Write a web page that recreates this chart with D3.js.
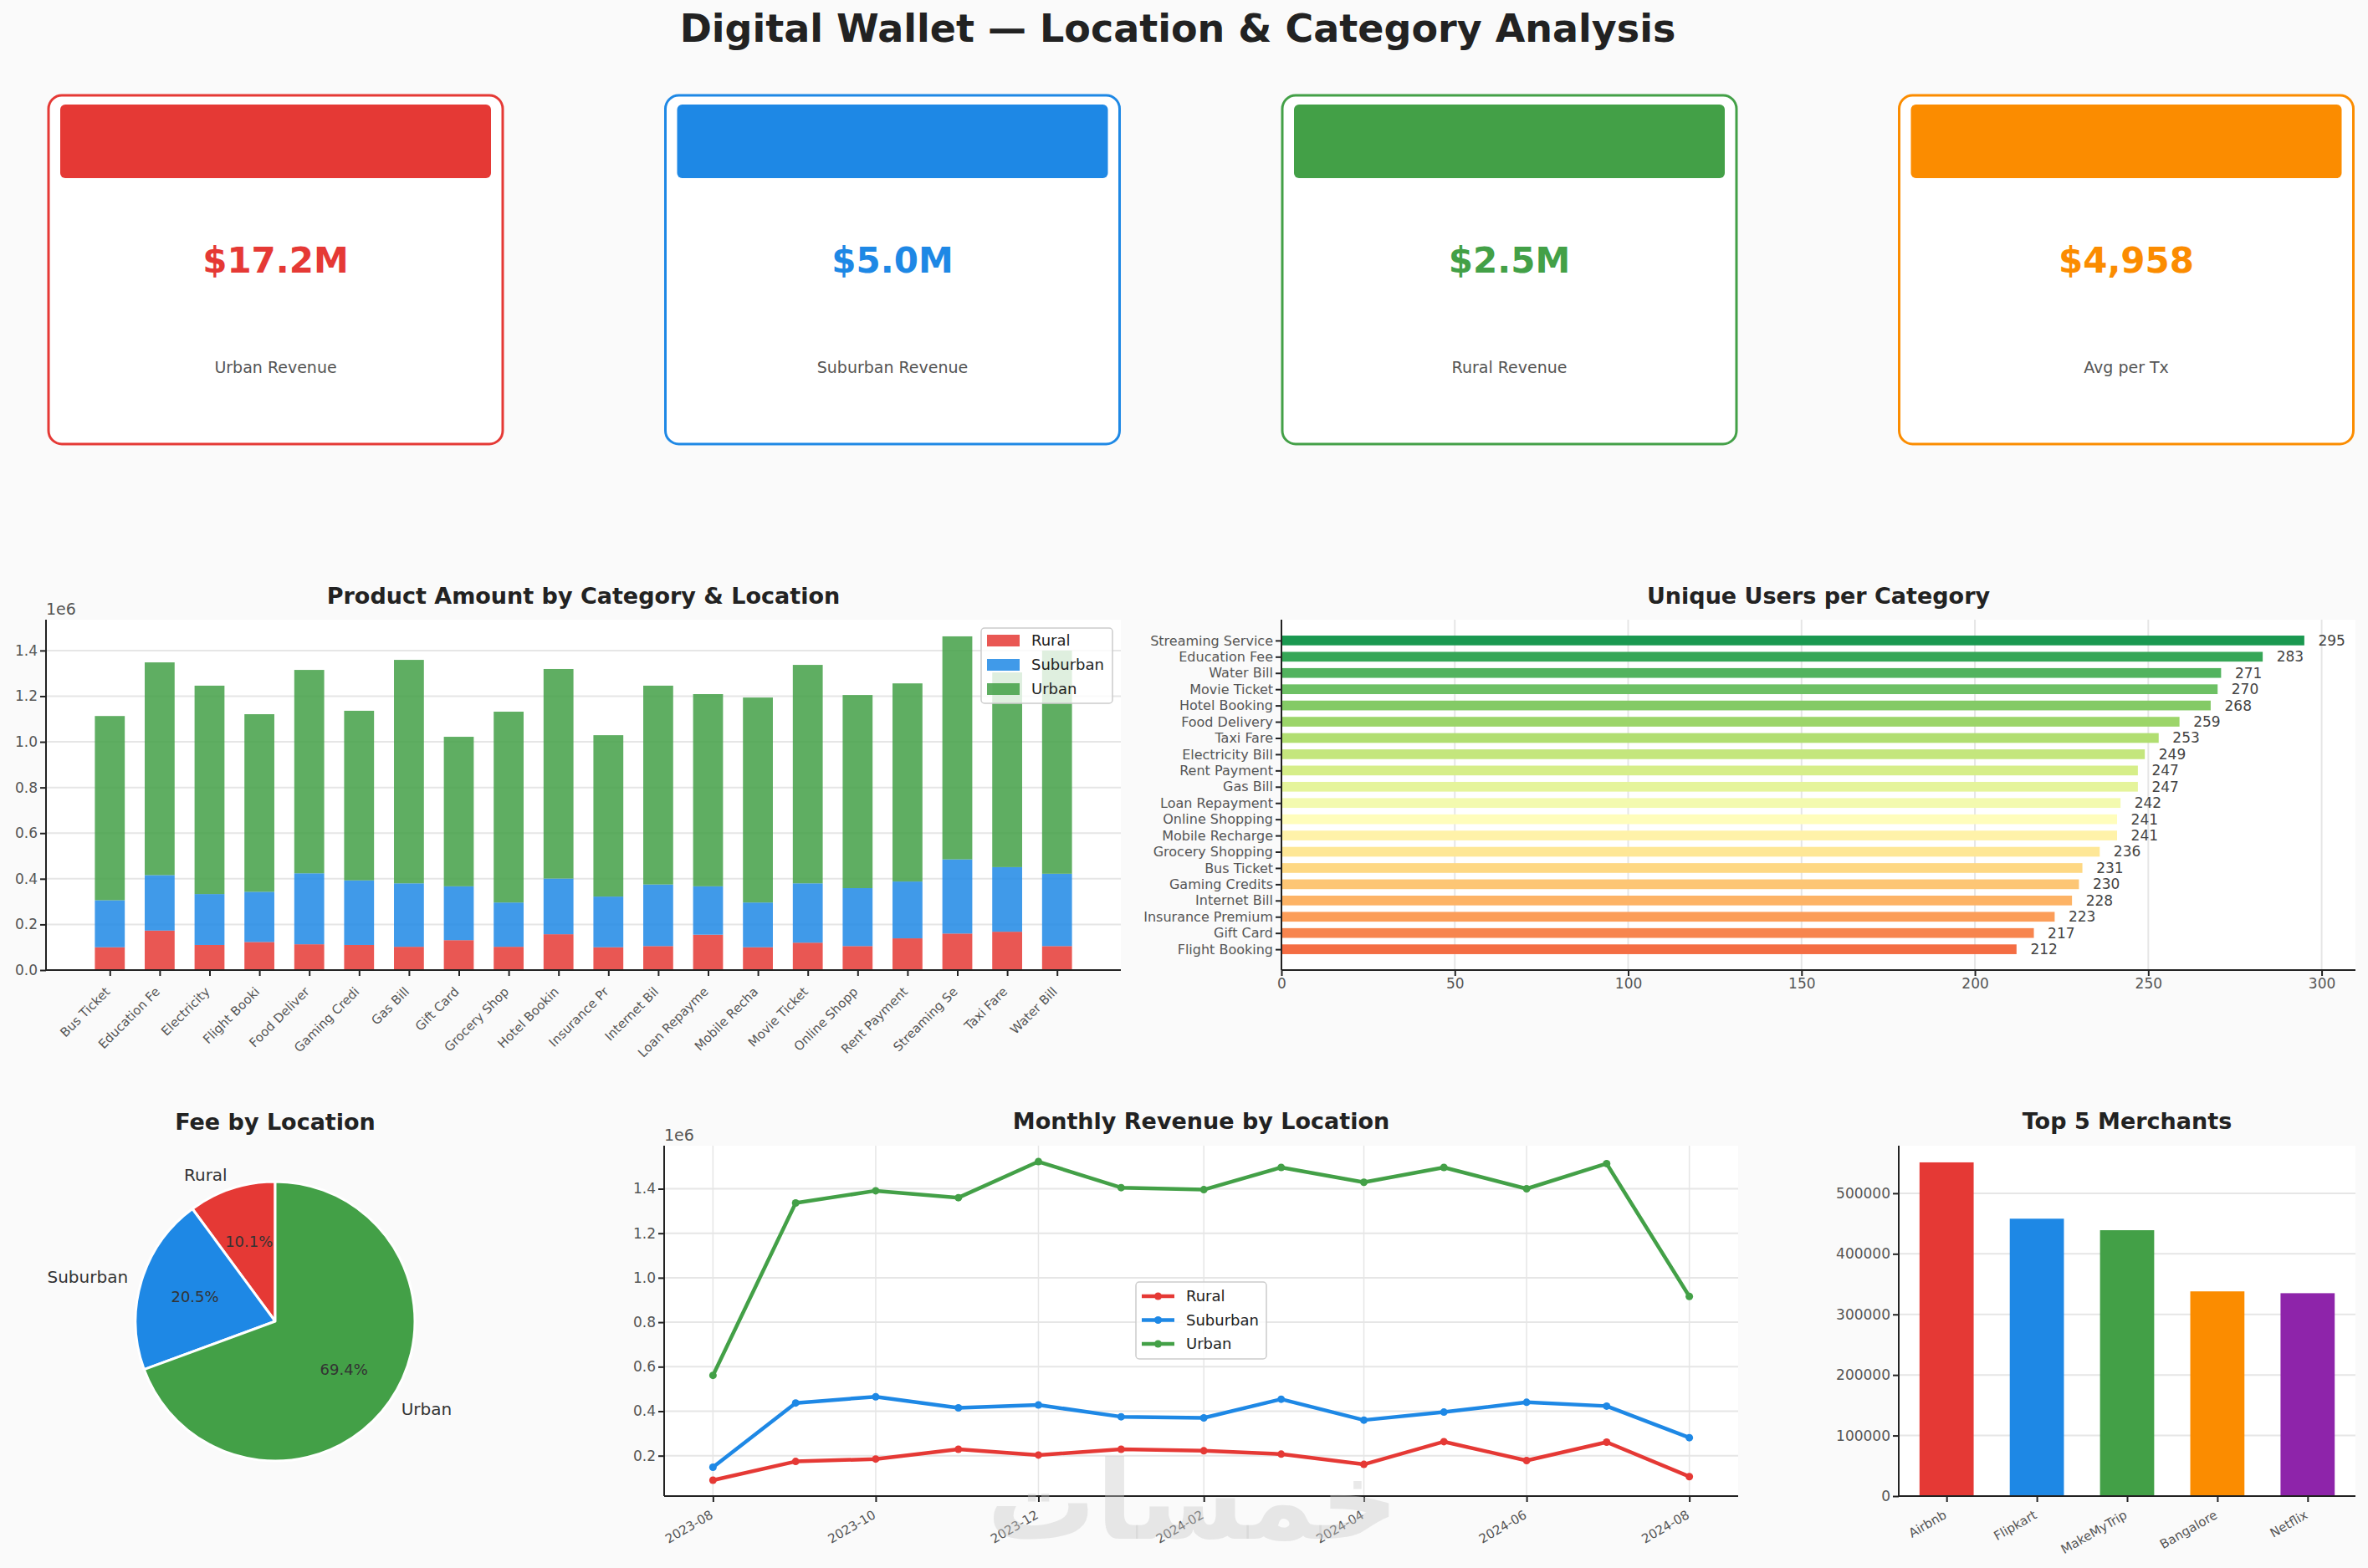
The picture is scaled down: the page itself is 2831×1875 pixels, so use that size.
<!DOCTYPE html>
<html>
<head>
<meta charset="utf-8">
<script src="https://cdn.jsdelivr.net/npm/d3@7"></script>
<style>
  body { margin: 0; background: #fafafa; }
  text { font-family: "DejaVu Sans", sans-serif; }
</style>
</head>
<body>
<svg id="fig" width="2831" height="1875"></svg>
<script>
// ---- data ----
var locations = ["Rural", "Suburban", "Urban"];
var locColors = ["#e53935", "#1e88e5", "#43a047"];

var kpiValues = ["$17.2M", "$5.0M", "$2.5M", "$4,958"];
var kpiLabels = ["Urban Revenue", "Suburban Revenue", "Rural Revenue", "Avg per Tx"];
var kpiColors = ["#e53935", "#1e88e5", "#43a047", "#fb8c00"];

var categories = ["Bus Ticket", "Education Fee", "Electricity Bill", "Flight Booking", "Food Delivery",
  "Gaming Credits", "Gas Bill", "Gift Card", "Grocery Shopping", "Hotel Booking", "Insurance Premium",
  "Internet Bill", "Loan Repayment", "Mobile Recharge", "Movie Ticket", "Online Shopping", "Rent Payment",
  "Streaming Service", "Taxi Fare", "Water Bill"];
var ruralAmt = [100000, 173000, 110000, 123000, 113000, 110000, 102000, 131000, 102000, 157000,
  100000, 105000, 155000, 100000, 120000, 105000, 139000, 160000, 168000, 105000];
var suburbanAmt = [206000, 243000, 223000, 220000, 311000, 283000, 278000, 236000, 194000, 244000,
  222000, 270000, 212000, 196000, 260000, 254000, 249000, 325000, 283000, 317000];
var urbanAmt = [807000, 932000, 913000, 778000, 891000, 743000, 979000, 655000, 836000, 918000,
  707000, 871000, 842000, 898000, 957000, 846000, 868000, 977000, 853000, 978000];
var uniqueUsers = [231, 283, 249, 212, 259, 230, 247, 217, 236, 268, 223, 228, 242, 241, 270, 241, 247, 295, 253, 271];

var feeShare = [10.1, 20.5, 69.4];

var months = ["2023-08", "2023-09", "2023-10", "2023-11", "2023-12", "2024-01", "2024-02",
  "2024-03", "2024-04", "2024-05", "2024-06", "2024-07", "2024-08"];
var ruralMonthly = [90000, 174000, 185000, 229000, 203000, 229000, 222000, 207000, 161000, 263000, 178000, 261000, 106000];
var suburbanMonthly = [148000, 437000, 465000, 415000, 428000, 375000, 370000, 454000, 360000, 396000, 440000, 423000, 281000];
var urbanMonthly = [561000, 1336000, 1391000, 1360000, 1522000, 1405000, 1396000, 1496000, 1429000, 1496000, 1400000, 1513000, 916000];
var monthTicks = ["2023-08", "2023-10", "2023-12", "2024-02", "2024-04", "2024-06", "2024-08"];

var merchants = ["Airbnb", "Flipkart", "MakeMyTrip", "Bangalore", "Netflix"];
var merchantRevenue = [551000, 458000, 439000, 338000, 335000];
var merchantColors = ["#e53935", "#1e88e5", "#43a047", "#fb8c00", "#8e24aa"];

// ---- helpers ----
var svg = d3.select("#fig");
svg.append("rect").attr("width", 2831).attr("height", 1875).attr("fill", "#fafafa");

function styleAxis(g, size) {
  g.selectAll(".domain").attr("stroke", "#222").attr("stroke-width", 2);
  g.selectAll(".tick line").attr("stroke", "#222").attr("stroke-width", 2);
  g.selectAll(".tick text").attr("fill", "#555").style("font-size", (size || 17) + "px");
}
function plotBg(p) {
  svg.append("rect").attr("x", p.l).attr("y", p.t).attr("width", p.r - p.l).attr("height", p.b - p.t).attr("fill", "#fff");
}
function title(x, y, txt) {
  svg.append("text").attr("x", x).attr("y", y).attr("text-anchor", "middle")
    .style("font-size", "27px").style("font-weight", "bold").attr("fill", "#222").text(txt);
}
function spines(p) {
  svg.append("line").attr("x1", p.l).attr("x2", p.l).attr("y1", p.t).attr("y2", p.b).attr("stroke", "#222").attr("stroke-width", 2);
  svg.append("line").attr("x1", p.l).attr("x2", p.r).attr("y1", p.b).attr("y2", p.b).attr("stroke", "#222").attr("stroke-width", 2);
}

// ---- suptitle ----
svg.append("text").attr("x", 1408).attr("y", 50).attr("text-anchor", "middle")
  .style("font-size", "46px").style("font-weight", "bold").attr("fill", "#222")
  .text("Digital Wallet \u2014 Location & Category Analysis");

// ---- KPI cards ----
kpiValues.forEach(function(v, i) {
  var x0 = 58 + i * 737.5, w = 543;
  var g = svg.append("g");
  g.append("rect").attr("x", x0).attr("y", 114).attr("width", w).attr("height", 417)
    .attr("rx", 16).attr("fill", "#fff").attr("stroke", kpiColors[i]).attr("stroke-width", 3);
  g.append("rect").attr("x", x0 + 14).attr("y", 125).attr("width", w - 28).attr("height", 88)
    .attr("rx", 6).attr("fill", kpiColors[i]);
  g.append("text").attr("x", x0 + w / 2).attr("y", 326).attr("text-anchor", "middle")
    .style("font-size", "42px").style("font-weight", "bold").attr("fill", kpiColors[i]).text(v);
  g.append("text").attr("x", x0 + w / 2).attr("y", 446).attr("text-anchor", "middle")
    .style("font-size", "19px").attr("fill", "#555").text(kpiLabels[i]);
});

// ---- Chart 1: stacked bars ----
(function() {
  var p = {l: 55, r: 1340, t: 741, b: 1160};
  plotBg(p);
  var rows = categories.map(function(c, i) {
    return {cat: c, Rural: ruralAmt[i], Suburban: suburbanAmt[i], Urban: urbanAmt[i], i: i};
  });
  var totals = rows.map(function(r) { return r.Rural + r.Suburban + r.Urban; });
  var x = d3.scaleLinear().domain([-1.28, 20.28]).range([p.l, p.r]);
  var y = d3.scaleLinear().domain([0, d3.max(totals) * 1.05]).range([p.b, p.t]);
  var yt = d3.range(0, 1.45e6, 0.2e6);
  svg.append("g").selectAll("line").data(yt).enter().append("line")
    .attr("x1", p.l).attr("x2", p.r).attr("y1", y).attr("y2", y)
    .attr("stroke", "#e6e6e6").attr("stroke-width", 2);
  var stack = d3.stack().keys(locations)(rows);
  var bw = x(0.3) - x(-0.3);
  svg.append("g").selectAll("g").data(stack).enter().append("g")
    .attr("fill", function(d, k) { return locColors[k]; }).attr("fill-opacity", 0.85)
    .selectAll("rect").data(function(d) { return d; }).enter().append("rect")
    .attr("x", function(d) { return x(d.data.i) - bw / 2; })
    .attr("width", bw)
    .attr("y", function(d) { return y(d[1]); })
    .attr("height", function(d) { return y(d[0]) - y(d[1]); });
  var gx = svg.append("g").attr("transform", "translate(0," + p.b + ")")
    .call(d3.axisBottom(x).tickValues(d3.range(20)).tickSize(7).tickSizeOuter(0)
      .tickFormat(function(i) { return categories[i].slice(0, 12); }));
  gx.select(".domain").remove();
  styleAxis(gx, 15);
  gx.selectAll(".tick text").attr("y", 0).attr("dy", "0.35em").attr("text-anchor", "end")
    .attr("transform", "translate(-3,23) rotate(-45)");
  var gy = svg.append("g").attr("transform", "translate(" + p.l + ",0)")
    .call(d3.axisLeft(y).tickValues(yt).tickSize(7).tickSizeOuter(0)
      .tickFormat(function(d) { return (d / 1e6).toFixed(1); }));
  gy.select(".domain").remove();
  styleAxis(gy, 17);
  spines(p);
  svg.append("text").attr("x", p.l).attr("y", 735).style("font-size", "19px").attr("fill", "#555").text("1e6");
  title((p.l + p.r) / 2, 722, "Product Amount by Category & Location");
  // legend
  var lg = svg.append("g").attr("transform", "translate(1173,751)");
  lg.append("rect").attr("width", 157).attr("height", 90).attr("rx", 4)
    .attr("fill", "#fff").attr("fill-opacity", 0.8).attr("stroke", "#ccc").attr("stroke-width", 1.5);
  locations.forEach(function(l, k) {
    lg.append("rect").attr("x", 7).attr("y", 8 + k * 29).attr("width", 39).attr("height", 14)
      .attr("fill", locColors[k]).attr("fill-opacity", 0.85);
    lg.append("text").attr("x", 60).attr("y", 15 + k * 29).attr("dy", "0.35em")
      .style("font-size", "18px").attr("fill", "#222").text(l);
  });
})();

// ---- Chart 2: unique users ----
(function() {
  var p = {l: 1532, r: 2816, t: 741, b: 1160};
  plotBg(p);
  var order = d3.range(categories.length).sort(function(a, b) { return uniqueUsers[a] - uniqueUsers[b]; });
  var x = d3.scaleLinear().domain([0, d3.max(uniqueUsers) * 1.05]).range([p.l, p.r]);
  var y = d3.scaleLinear().domain([-1.28, 20.28]).range([p.b, p.t]);
  var color = d3.scaleLinear().domain(d3.range(11).map(function(i) { return i / 10; })).range(d3.schemeRdYlGn[11]);
  var xt = d3.range(0, 301, 50);
  svg.append("g").selectAll("line").data(xt).enter().append("line")
    .attr("x1", x).attr("x2", x).attr("y1", p.t).attr("y2", p.b)
    .attr("stroke", "#e6e6e6").attr("stroke-width", 2);
  var bh = y(-0.3) - y(0.3);
  svg.append("g").selectAll("rect").data(order).enter().append("rect")
    .attr("x", p.l).attr("y", function(ci, k) { return y(k) - bh / 2; })
    .attr("width", function(ci) { return x(uniqueUsers[ci]) - p.l; })
    .attr("height", bh)
    .attr("fill", function(ci, k) { return color(0.2 + 0.7 * k / 19); });
  svg.append("g").selectAll("text").data(order).enter().append("text")
    .attr("x", function(ci) { return x(uniqueUsers[ci] + 4); })
    .attr("y", function(ci, k) { return y(k); }).attr("dy", "0.35em")
    .style("font-size", "17px").attr("fill", "#444")
    .text(function(ci) { return uniqueUsers[ci]; });
  var gx = svg.append("g").attr("transform", "translate(0," + p.b + ")")
    .call(d3.axisBottom(x).tickValues(xt).tickSize(7).tickSizeOuter(0));
  gx.select(".domain").remove();
  styleAxis(gx, 17);
  var gy = svg.append("g").attr("transform", "translate(" + p.l + ",0)")
    .call(d3.axisLeft(y).tickValues(d3.range(20)).tickSize(7).tickSizeOuter(0)
      .tickFormat(function(k) { return categories[order[k]]; }));
  gy.select(".domain").remove();
  styleAxis(gy, 16);
  spines(p);
  title((p.l + p.r) / 2, 722, "Unique Users per Category");
})();

// ---- Chart 3: fee pie ----
(function() {
  var cx = 329, cy = 1580, r = 167;
  var arcs = d3.pie().sort(null).startAngle(0).endAngle(-2 * Math.PI)(feeShare);
  var arc = d3.arc().innerRadius(0).outerRadius(r);
  var g = svg.append("g").attr("transform", "translate(" + cx + "," + cy + ")");
  g.selectAll("path").data(arcs).enter().append("path")
    .attr("d", arc).attr("fill", function(d, k) { return locColors[k]; })
    .attr("stroke", "#fff").attr("stroke-width", 3).attr("stroke-linejoin", "round");
  arcs.forEach(function(d, k) {
    var a = (d.startAngle + d.endAngle) / 2;
    var sx = Math.sin(a), sy = -Math.cos(a);
    g.append("text").attr("x", 1.1 * r * sx).attr("y", 1.1 * r * sy).attr("dy", "0.35em")
      .attr("text-anchor", sx < 0 ? "end" : "start")
      .style("font-size", "20px").attr("fill", "#333").text(locations[k]);
    g.append("text").attr("x", 0.6 * r * sx).attr("y", 0.6 * r * sy).attr("dy", "0.35em")
      .attr("text-anchor", "middle").style("font-size", "18px").attr("fill", "#333")
      .text(feeShare[k].toFixed(1) + "%");
  });
  title(cx, 1351, "Fee by Location");
})();

// ---- Chart 4: monthly revenue ----
(function() {
  var p = {l: 794, r: 2078, t: 1370, b: 1789};
  plotBg(p);
  var parse = d3.timeParse("%Y-%m");
  var dates = months.map(parse);
  var series = [ruralMonthly, suburbanMonthly, urbanMonthly];
  var t0 = dates[0].getTime(), t1 = dates[dates.length - 1].getTime(), pad = (t1 - t0) * 0.05;
  var x = d3.scaleTime().domain([new Date(t0 - pad), new Date(t1 + pad)]).range([p.l, p.r]);
  var all = [].concat(ruralMonthly, suburbanMonthly, urbanMonthly);
  var lo = d3.min(all), hi = d3.max(all), m = (hi - lo) * 0.05;
  var y = d3.scaleLinear().domain([lo - m, hi + m]).range([p.b, p.t]);
  var yt = d3.range(0.2e6, 1.45e6, 0.2e6);
  var tickDates = monthTicks.map(parse);
  svg.append("g").selectAll("line").data(yt).enter().append("line")
    .attr("x1", p.l).attr("x2", p.r).attr("y1", y).attr("y2", y).attr("stroke", "#e6e6e6").attr("stroke-width", 2);
  svg.append("g").selectAll("line").data(tickDates).enter().append("line")
    .attr("x1", x).attr("x2", x).attr("y1", p.t).attr("y2", p.b).attr("stroke", "#e6e6e6").attr("stroke-width", 1.5);
  var line = d3.line().x(function(d, i) { return x(dates[i]); }).y(function(d) { return y(d); });
  series.forEach(function(s, k) {
    svg.append("path").datum(s).attr("d", line).attr("fill", "none")
      .attr("stroke", locColors[k]).attr("stroke-width", 4.5).attr("stroke-linejoin", "round");
    svg.append("g").selectAll("circle").data(s).enter().append("circle")
      .attr("cx", function(d, i) { return x(dates[i]); }).attr("cy", y).attr("r", 4.5)
      .attr("fill", locColors[k]);
  });
  var gx = svg.append("g").attr("transform", "translate(0," + p.b + ")")
    .call(d3.axisBottom(x).tickValues(tickDates).tickSize(7).tickSizeOuter(0).tickFormat(d3.timeFormat("%Y-%m")));
  gx.select(".domain").remove();
  styleAxis(gx, 15);
  gx.selectAll(".tick text").attr("y", 0).attr("dy", "0.35em").attr("text-anchor", "end")
    .attr("transform", "translate(-2,21) rotate(-30)");
  var gy = svg.append("g").attr("transform", "translate(" + p.l + ",0)")
    .call(d3.axisLeft(y).tickValues(yt).tickSize(7).tickSizeOuter(0)
      .tickFormat(function(d) { return (d / 1e6).toFixed(1); }));
  gy.select(".domain").remove();
  styleAxis(gy, 17);
  spines(p);
  svg.append("text").attr("x", p.l).attr("y", 1364).style("font-size", "19px").attr("fill", "#555").text("1e6");
  title((p.l + p.r) / 2, 1350, "Monthly Revenue by Location");
  var lg = svg.append("g").attr("transform", "translate(1358,1533)");
  lg.append("rect").attr("width", 156).attr("height", 92).attr("rx", 4)
    .attr("fill", "#fff").attr("fill-opacity", 0.8).attr("stroke", "#ccc").attr("stroke-width", 1.5);
  locations.forEach(function(l, k) {
    var yy = 17 + k * 28.5;
    lg.append("line").attr("x1", 7).attr("x2", 46).attr("y1", yy).attr("y2", yy)
      .attr("stroke", locColors[k]).attr("stroke-width", 4.5);
    lg.append("circle").attr("cx", 26.5).attr("cy", yy).attr("r", 4.5).attr("fill", locColors[k]);
    lg.append("text").attr("x", 60).attr("y", yy).attr("dy", "0.35em")
      .style("font-size", "18px").attr("fill", "#222").text(l);
  });
})();

// ---- Chart 5: top merchants ----
(function() {
  var p = {l: 2270, r: 2816, t: 1370, b: 1789};
  plotBg(p);
  var x = d3.scaleLinear().domain([-0.53, 4.53]).range([p.l, p.r]);
  var y = d3.scaleLinear().domain([0, d3.max(merchantRevenue) * 1.05]).range([p.b, p.t]);
  var yt = d3.range(0, 500001, 100000);
  svg.append("g").selectAll("line").data(yt).enter().append("line")
    .attr("x1", p.l).attr("x2", p.r).attr("y1", y).attr("y2", y).attr("stroke", "#e6e6e6").attr("stroke-width", 2);
  var bw = x(0.3) - x(-0.3);
  svg.append("g").selectAll("rect").data(merchantRevenue).enter().append("rect")
    .attr("x", function(d, i) { return x(i) - bw / 2; }).attr("width", bw)
    .attr("y", y).attr("height", function(d) { return p.b - y(d); })
    .attr("fill", function(d, i) { return merchantColors[i]; });
  var gx = svg.append("g").attr("transform", "translate(0," + p.b + ")")
    .call(d3.axisBottom(x).tickValues(d3.range(5)).tickSize(7).tickSizeOuter(0)
      .tickFormat(function(i) { return merchants[i]; }));
  gx.select(".domain").remove();
  styleAxis(gx, 15);
  gx.selectAll(".tick text").attr("y", 0).attr("dy", "0.35em").attr("text-anchor", "end")
    .attr("transform", "translate(-2,21) rotate(-30)");
  var gy = svg.append("g").attr("transform", "translate(" + p.l + ",0)")
    .call(d3.axisLeft(y).tickValues(yt).tickSize(7).tickSizeOuter(0));
  gy.select(".domain").remove();
  gy.selectAll(".tick text").text(function(d) { return String(d); });
  styleAxis(gy, 17);
  spines(p);
  title((p.l + p.r) / 2, 1350, "Top 5 Merchants");
})();

// ---- watermark ----
svg.append("text").attr("x", 1426).attr("y", 1840).attr("text-anchor", "middle")
  .style("font-size", "130px").style("font-weight", "bold").attr("fill", "#c8c8c8").attr("fill-opacity", 0.4)
  .text("\u062e\u0645\u0633\u0627\u062a");
</script>
</body>
</html>
